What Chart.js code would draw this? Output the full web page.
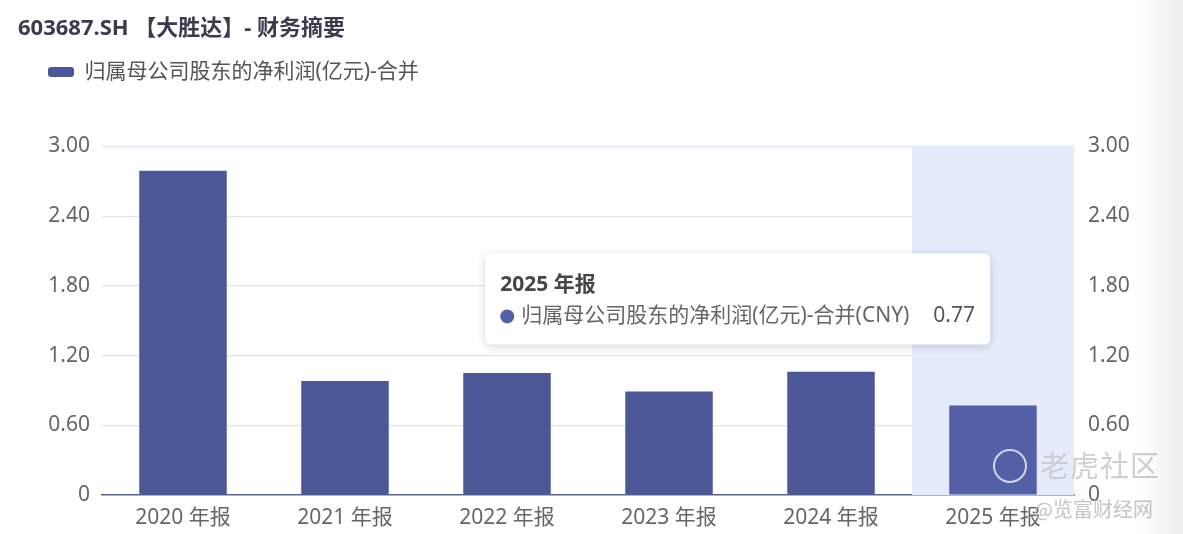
<!DOCTYPE html>
<html>
<head>
<meta charset="utf-8">
<script src="https://cdn.jsdelivr.net/npm/chart.js@4/dist/chart.umd.min.js"></script>
<style>
  html, body { margin: 0; padding: 0; background: #fff; }
  #wrap { position: relative; width: 1183px; height: 534px; overflow: hidden; }
  #shade { position: absolute; right: 0; top: 0; width: 45px; height: 534px;
           background: linear-gradient(to right, rgba(0,0,0,0), rgba(0,0,0,0.07)); pointer-events: none; }
  .wm { position: absolute; font-family: "Noto Sans CJK SC", sans-serif; pointer-events: none; }
  #wm1 { left: 1040px; top: 443px; font-size: 29px; color: rgba(200,200,205,0.85); letter-spacing: 1px; }
  #wm2 { left: 1034px; top: 494px; font-size: 20px; color: rgba(190,190,195,0.9); }
  #logo { position: absolute; left: 993px; top: 449px; width: 30px; height: 30px; border-radius: 50%;
          border: 2px solid rgba(235,235,240,0.85); }
</style>
</head>
<body>
<div id="wrap">
  <canvas id="chart" width="1183" height="534"></canvas>
  <div id="logo"></div>
  <div class="wm" id="wm1">老虎社区</div>
  <div class="wm" id="wm2">@览富财经网</div>
  <div id="shade"></div>
</div>
<script>
var titulo = "603687.SH 【大胜达】- 财务摘要";
var serie = "归属母公司股东的净利润(亿元)-合并";
var moeda = "CNY";
var anos = ["2020 年报", "2021 年报", "2022 年报", "2023 年报", "2024 年报", "2025 年报"];
var lucro = [2.79, 0.98, 1.05, 0.89, 1.06, 0.77];
var yTicks = [0, 0.6, 1.2, 1.8, 2.4, 3.0];
var yLabels = ["0", "0.60", "1.20", "1.80", "2.40", "3.00"];
var ativo = 5; // categoria destacada (tooltip)

var fonte = '"Noto Sans", "Noto Sans CJK SC", sans-serif';
var corBarra = "#4b5796";
var corAtiva = "#5360a8";

function fixaTicks(axis) {
	axis.ticks = yTicks.map(function (v) { return { value: v }; });
}
function rotulo(v) {
	var i = yTicks.indexOf(v);
	return i >= 0 ? yLabels[i] : "";
}

// faixa de destaque atras das barras
var faixa = {
	id: "faixa",
	beforeDatasetsDraw: function (chart) {
		var ctx = chart.ctx, x = chart.scales.x, a = chart.chartArea;
		var w = (a.right - a.left) / anos.length;
		var cx = x.getPixelForValue(ativo);
		ctx.save();
		ctx.fillStyle = "#e5ebfb";
		ctx.fillRect(cx - w / 2, a.top, w, a.bottom - a.top);
		ctx.restore();
	}
};

// caixa do tooltip desenhada a mao
var caixa = {
	id: "caixa",
	afterDraw: function (chart) {
		var ctx = chart.ctx, x = chart.scales.x, a = chart.chartArea;
		var tTitulo = anos[ativo];
		var tItem = serie + "(" + moeda + ")";
		var tValor = lucro[ativo].toFixed(2);
		ctx.save();
		ctx.font = "21px " + fonte;
		var wItem = ctx.measureText(tItem).width;
		var wValor = ctx.measureText(tValor).width;
		var w = 36 + wItem + 24 + wValor + 15;
		var h = 91;
		var right = x.getPixelForValue(ativo) - 3;
		var left = right - w;
		var top = a.top + 107;

		ctx.shadowColor = "rgba(0,0,0,0.16)";
		ctx.shadowBlur = 10;
		ctx.shadowOffsetY = 2;
		ctx.fillStyle = "#ffffff";
		ctx.beginPath();
		ctx.roundRect(left, top, w, h, 5);
		ctx.fill();
		ctx.shadowColor = "transparent";

		ctx.textBaseline = "middle";
		ctx.fillStyle = "#464646";
		ctx.font = "bold 21px " + fonte;
		ctx.fillText(tTitulo, left + 15, top + 32);

		ctx.fillStyle = corAtiva;
		ctx.beginPath();
		ctx.arc(left + 22, top + 63, 7, 0, Math.PI * 2);
		ctx.fill();

		ctx.font = "21px " + fonte;
		ctx.fillStyle = "#666666";
		ctx.fillText(tItem, left + 36, top + 63);
		ctx.fillStyle = "#555555";
		ctx.textAlign = "right";
		ctx.fillText(tValor, left + w - 15, top + 63);
		ctx.restore();
	}
};

new Chart(document.getElementById("chart"), {
	type: "bar",
	data: {
		labels: anos,
		datasets: [{
			label: serie,
			data: lucro,
			backgroundColor: function (c) { return c.dataIndex === ativo ? corAtiva : corBarra; },
			categoryPercentage: 1.0,
			barPercentage: 0.54,
			yAxisID: "y"
		}]
	},
	options: {
		responsive: false,
		animation: false,
		events: [],
		layout: { padding: { left: 18, right: 0, top: 0, bottom: 0 } },
		plugins: {
			tooltip: { enabled: false },
			title: {
				display: true,
				text: titulo,
				align: "start",
				color: "#3a3b4c",
				font: { family: fonte, size: 22, weight: "bold" },
				padding: { top: 16, bottom: -11 }
			},
			// espaco vazio entre a legenda e o grafico
			subtitle: {
				display: true,
				text: "",
				weight: 500,
				font: { size: 1, lineHeight: 1 },
				padding: { top: 53, bottom: 0 }
			},
			legend: {
				display: true,
				align: "start",
				labels: {
					boxWidth: 26,
					boxHeight: 10,
					useBorderRadius: true,
					borderRadius: 3,
					padding: 30,
					color: "#555555",
					font: { family: fonte, size: 21 }
				}
			}
		},
		scales: {
			x: {
				grid: { display: false },
				border: { display: true, color: "#5b6394", width: 1.5 },
				ticks: { color: "#666666", font: { family: fonte, size: 21 }, padding: 2, maxRotation: 0 },
				afterFit: function (s) { s.height = 39; }
			},
			y: {
				position: "left",
				min: 0, max: 3,
				afterBuildTicks: fixaTicks,
				grid: {
					drawTicks: false,
					color: function (c) { return c.tick.value === 0 ? "rgba(0,0,0,0)" : "#e0e4ee"; },
					lineWidth: 1.2
				},
				border: { display: false },
				ticks: { callback: rotulo, color: "#666666", font: { family: fonte, size: 21 }, padding: 12 },
				afterFit: function (s) { s.width = 84; }
			},
			y2: {
				position: "right",
				min: 0, max: 3,
				afterBuildTicks: fixaTicks,
				grid: { drawOnChartArea: false, drawTicks: false },
				border: { display: false },
				ticks: { callback: rotulo, color: "#666666", font: { family: fonte, size: 21 }, padding: 14 },
				afterFit: function (s) { s.width = 109; }
			}
		}
	},
	plugins: [faixa, caixa]
});
</script>
</body>
</html>
